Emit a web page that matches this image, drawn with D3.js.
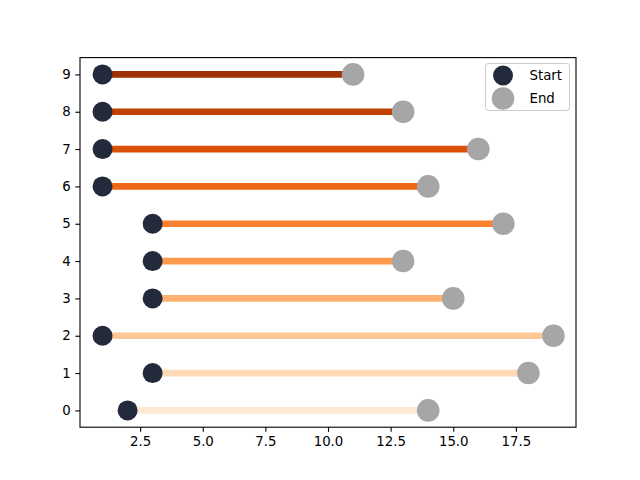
<!DOCTYPE html>
<html><head><meta charset="utf-8">
<script src="https://cdn.jsdelivr.net/npm/d3@7"></script>
<style>body{margin:0;background:#fff}svg{display:block}text{font-family:"DejaVu Sans",sans-serif}</style>
</head><body>
<svg id="c" width="640" height="480"></svg>
<script>
const rows = [0,1,2,3,4,5,6,7,8,9];
const startVals = [2,3,1,3,3,3,1,1,1,1];
const endVals = [14,18,19,15,13,17,14,16,13,11];
const xTicks = [2.5,5.0,7.5,10.0,12.5,15.0,17.5];
const yTicks = [0,1,2,3,4,5,6,7,8,9];
const legendLabels = ["Start","End"];

const svg = d3.select("#c");
const L=80,R=576,T=57.6,B=427.2;
const x = d3.scaleLinear().domain([0.1,19.9]).range([L,R]);
const y = d3.scaleLinear().domain([-0.45,9.45]).range([B,T]);
const col = d3.scaleSequential(d3.interpolateOranges).domain([-0.9/0.8*1, 9+0.9/0.8*1]);
const colorOf = i => d3.interpolateOranges(0.1 + 0.8*i/9);

const g = svg.append("g");
g.selectAll("line.seg").data(rows).enter().append("line")
  .attr("x1",i=>x(startVals[i])).attr("x2",i=>x(endVals[i]))
  .attr("y1",i=>y(i)).attr("y2",i=>y(i))
  .attr("stroke",i=>colorOf(i)).attr("stroke-width",6.67);
g.selectAll("circle.s").data(rows).enter().append("circle")
  .attr("cx",i=>x(startVals[i])).attr("cy",i=>y(i)).attr("r",10)
  .attr("fill","#222a3b");
g.selectAll("circle.e").data(rows).enter().append("circle")
  .attr("cx",i=>x(endVals[i])).attr("cy",i=>y(i)).attr("r",11.3)
  .attr("fill","#a6a6a6");

const xa = svg.append("g").attr("transform",`translate(0,${B})`)
  .call(d3.axisBottom(x).tickValues(xTicks).tickFormat(d3.format(".1f")).tickSize(4.67).tickPadding(4.67));
const ya = svg.append("g").attr("transform",`translate(${L},0)`)
  .call(d3.axisLeft(y).tickValues(yTicks).tickFormat(d3.format("d")).tickSize(4.67).tickPadding(4.67));
[xa,ya].forEach(a=>{a.select(".domain").remove();a.selectAll("text").attr("font-size","13.33px").attr("font-family","DejaVu Sans").attr("fill","#000");a.selectAll("line").attr("stroke","#000").attr("stroke-width",1.1);});
svg.append("rect").attr("x",L).attr("y",T).attr("width",R-L).attr("height",B-T)
  .attr("fill","none").attr("stroke","#000").attr("stroke-width",1.1);

// legend
const lg = svg.append("g");
lg.append("rect").attr("x",485.5).attr("y",63.5).attr("width",84).attr("height",47).attr("rx",3)
  .attr("fill","#fff").attr("fill-opacity",0.8).attr("stroke","#ccc").attr("stroke-width",1);
const lc = ["#222a3b","#a6a6a6"], lr=[10,11.3];
legendLabels.forEach((t,k)=>{
  const cy = 75.5 + k*23;
  lg.append("circle").attr("cx",503).attr("cy",cy).attr("r",lr[k]).attr("fill",lc[k]);
  lg.append("text").attr("x",529.5).attr("y",cy).attr("dy","0.36em").attr("font-size","13.33px").attr("fill","#000").text(t);
});
</script>
</body></html>
